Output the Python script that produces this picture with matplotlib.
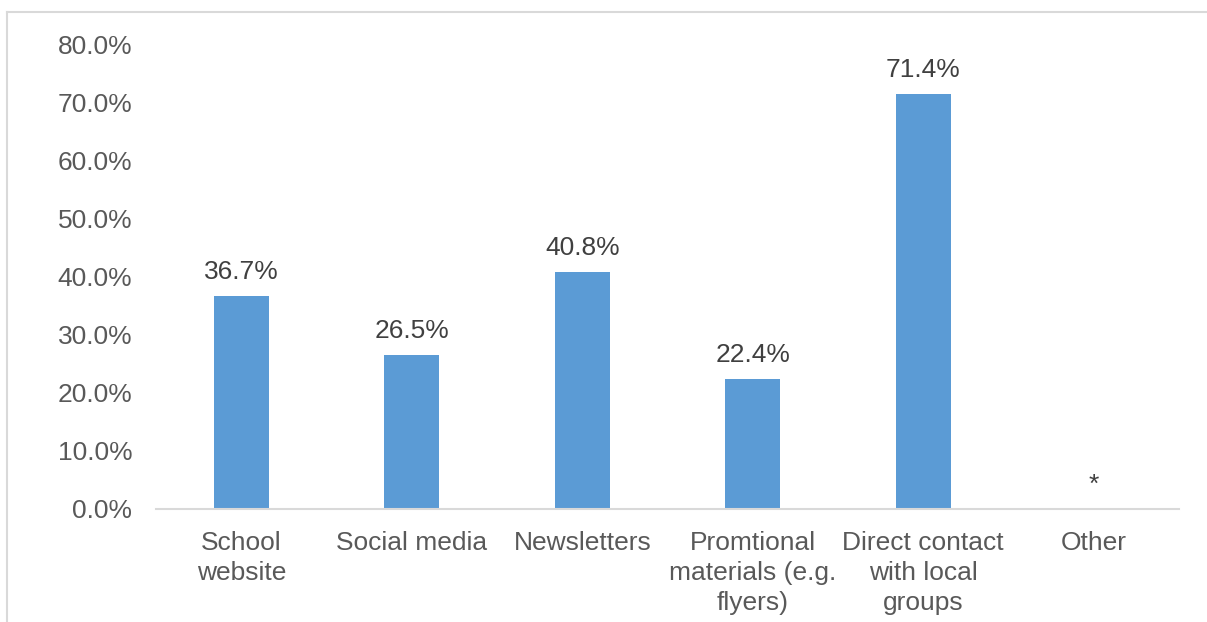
import numpy as np
import matplotlib.pyplot as plt
from matplotlib.lines import Line2D

plt.rcParams['font.family'] = ['Liberation Sans', 'DejaVu Sans']

categories = ['School\nwebsite', 'Social media', 'Newsletters',
              'Promtional\nmaterials (e.g.\nflyers)',
              'Direct contact\nwith local\ngroups', 'Other']
values = [36.7, 26.5, 40.8, 22.4, 71.4, 0.0]
labels = ['36.7%', '26.5%', '40.8%', '22.4%', '71.4%', '*']
yticks = [0, 10, 20, 30, 40, 50, 60, 70, 80]

W, H = 1207, 622
fig = plt.figure(figsize=(W / 100, H / 100), dpi=100)
ax = fig.add_axes([156 / W, 1 - 509 / H, (1179 - 156) / W, (509 - 44) / H])

x = np.arange(len(categories))
ax.bar(x, values, width=0.32, color='#5B9BD5')

for xi, v, lab in zip(x, values, labels):
    ax.annotate(lab, (xi, v), xytext=(0, 8.5), textcoords='offset points',
                ha='center', va='bottom', fontsize=19, color='#404040')

ax.set_xlim(-0.5, len(categories) - 0.5)
ax.set_ylim(0, 80)
ax.set_yticks(yticks)
ax.set_yticklabels([f'{t:.1f}%' for t in yticks])
ax.set_xticks(x)
ax.set_xticklabels(categories, linespacing=1.3)

ax.tick_params(axis='y', length=0, pad=17, labelsize=19, labelcolor='#595959')
ax.tick_params(axis='x', length=0, pad=16, labelsize=19, labelcolor='#595959')

for s in ['top', 'right', 'left']:
    ax.spines[s].set_visible(False)
ax.spines['bottom'].set_color('#D9D9D9')
ax.spines['bottom'].set_linewidth(1.5)

# light frame round the chart area
fig.add_artist(Line2D([7 / W, 1], [1 - 11.5 / H, 1 - 11.5 / H],
                      color='#D9D9D9', lw=1.5, transform=fig.transFigure))
fig.add_artist(Line2D([7 / W, 7 / W], [0, 1 - 11.5 / H],
                      color='#D9D9D9', lw=1.5, transform=fig.transFigure))

fig.savefig('out.png', dpi=100)
